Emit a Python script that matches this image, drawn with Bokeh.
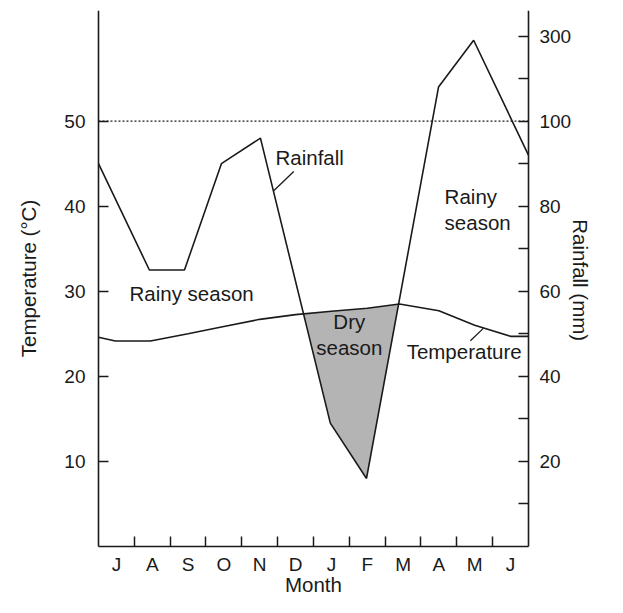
from bokeh.plotting import figure
from bokeh.models import Range1d, LinearAxis, FixedTicker
from bokeh.core.properties import value
from bokeh.embed import file_html
from bokeh.resources import INLINE
import numpy as np

# ---- data ----
months = ["J", "A", "S", "O", "N", "D", "J", "F", "M", "A", "M", "J"]
month_pos = [i + 0.5 for i in range(12)]
month_bounds = list(range(1, 12))

rain_x = [0, 1.42, 2.4, 3.43, 4.52, 6.47, 7.48, 9.49, 10.47, 12]
rain_mm = [90, 65, 65, 90, 96, 29, 16, 180, 290, 92]

temp_x = [0, 0.47, 1.45, 2.5, 3.5, 4.5, 5.5, 6.5, 7.5, 8.4, 9.5, 10.5, 11.5, 12]
temp_c = [24.6, 24.15, 24.15, 25.0, 25.85, 26.7, 27.25, 27.65, 28.0, 28.5, 27.7, 26.0, 24.7, 24.7]

temp_ticks = [10, 20, 30, 40, 50]
rain_ticks_mm = [10, 20, 30, 40, 50, 60, 70, 80, 90, 100, 200, 300]
rain_labeled = [20, 40, 60, 80, 100, 300]
threshold_mm = 100

X_MIN, X_MAX = 0, 12      # month span
Y_MIN, Y_MAX = 0, 63      # temperature axis span


def rain_to_axis(r):
    """Broken rainfall scale: 2 mm per degree up to 100 mm, 20 mm per degree above."""
    r = np.asarray(r, dtype=float)
    return np.where(r <= 100, r / 2.0, 50 + (r - 100) / 20.0)


rain_y = rain_to_axis(rain_mm)

FONT = "Liberation Sans"
INK = "#1a1a1a"

# the frame fills the canvas so that the axis titles can be drawn as text inside it;
# the three axes are pinned to the data edges
p = figure(width=607, height=597, x_range=Range1d(-2.735, 14.206), y_range=Range1d(-5.994, Y_MAX),
           output_backend="svg", toolbar_location=None,
           min_border_left=0, min_border_right=0, min_border_top=10, min_border_bottom=0)
p.grid.visible = False
p.outline_line_color = None
p.background_fill_color = "white"
p.border_fill_color = "white"

# ---- dry season fill (rainfall below temperature) ----
xs = np.linspace(X_MIN, X_MAX, 4801)
ti = np.interp(xs, temp_x, temp_c)
ri = np.interp(xs, rain_x, rain_y)
mask = ri < ti
p.varea(x=xs[mask], y1=ri[mask], y2=ti[mask], fill_color="#b4b4b4", fill_alpha=1.0)

# threshold dotted line
thr = float(rain_to_axis(threshold_mm))
p.line([X_MIN, X_MAX], [thr, thr], line_color=INK, line_width=1.1, line_dash="2 2")

p.line(rain_x, rain_y, line_color=INK, line_width=1.6)
p.line(temp_x, temp_c, line_color=INK, line_width=1.6)

# ---- annotations ----
ann_size = value("20.5px")
txt = dict(text_font=value(FONT), text_font_size=ann_size, text_color=INK, text_baseline="alphabetic")
p.text(x=[4.94], y=[45.73], text=["Rainfall"], text_align="left", **txt)
p.line([5.45, 4.89], [44.07, 41.81], line_color=INK, line_width=1.3)

p.text(x=[0.865], y=[29.75], text=["Rainy season"], text_align="left", **txt)

p.text(x=[7.0, 7.0], y=[26.48, 23.38], text=["Dry", "season"], text_align="center", **txt)

p.text(x=[8.6], y=[22.93], text=["Temperature"], text_align="left", **txt)
p.line([10.74, 10.38], [25.64, 24.19], line_color=INK, line_width=1.3)

p.text(x=[9.66, 9.66], y=[41.08, 38.13], text=["Rainy", "season"], text_align="left", **txt)

# axis titles
p.text(x=[6.0], y=[-4.52], text=["Month"], text_align="center", **txt)
p.text(x=[13.44], y=[31.3], text=["Rainfall (mm)"], text_align="center", angle=[-np.pi / 2], **txt)
p.text(x=[-1.954], y=[31.5], text=["Temperature (°C)"], text_align="center", angle=[np.pi / 2], **txt)

# ---- axes ----
def style_axis(ax):
    ax.axis_line_color = INK
    ax.axis_line_width = 1.6
    ax.major_tick_line_color = INK
    ax.major_tick_line_width = 1.5
    ax.minor_tick_line_color = INK
    ax.minor_tick_line_width = 1.5
    ax.major_tick_out = 0
    ax.minor_tick_out = 0
    ax.major_label_text_font = FONT
    ax.major_label_text_font_size = "19px"
    ax.major_label_text_color = INK

xa = p.xaxis[0]
style_axis(xa)
xa.fixed_location = Y_MIN
xa.bounds = (X_MIN, X_MAX)
xa.ticker = FixedTicker(ticks=month_pos, minor_ticks=month_bounds)
xa.major_label_overrides = {pos: m for pos, m in zip(month_pos, months)}
xa.major_tick_in = 0
xa.minor_tick_in = 10
xa.major_label_standoff = 7

ya = p.yaxis[0]
style_axis(ya)
ya.fixed_location = X_MIN
ya.bounds = (Y_MIN, Y_MAX)
ya.ticker = FixedTicker(ticks=temp_ticks, minor_ticks=[])
ya.major_tick_in = 10
ya.minor_tick_in = 0
ya.major_label_standoff = 13

rain_tick_pos = [float(v) for v in rain_to_axis(rain_ticks_mm)]
ra = LinearAxis(ticker=FixedTicker(ticks=rain_tick_pos, minor_ticks=[]))
style_axis(ra)
ra.fixed_location = X_MAX
ra.bounds = (Y_MIN, Y_MAX)
ra.major_tick_in = 10
ra.minor_tick_in = 0
ra.major_label_standoff = 11
ra.major_label_overrides = {pos: (str(mm) if mm in rain_labeled else "")
                            for pos, mm in zip(rain_tick_pos, rain_ticks_mm)}
p.add_layout(ra, "right")

open("out.html", "w").write(file_html(p, INLINE))
